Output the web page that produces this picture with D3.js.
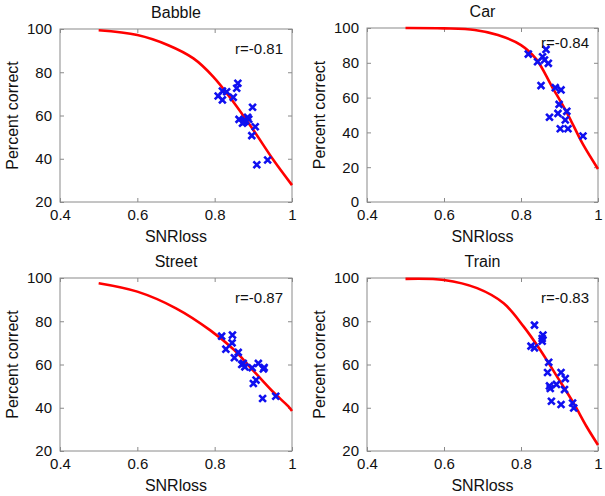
<!DOCTYPE html>
<html>
<head>
<meta charset="utf-8">
<script src="https://cdn.jsdelivr.net/npm/d3@7"></script>
<style>
  html, body { margin: 0; padding: 0; background: #fff; }
  svg { display: block; font-family: "Liberation Sans", Arial, Helvetica, sans-serif; }
</style>
</head>
<body>
<svg id="chart" width="605" height="496"></svg>
<script>
// ---- data ----
const titles = ["Babble", "Car", "Street", "Train"];
const rLabels = ["r=-0.81", "r=-0.84", "r=-0.87", "r=-0.83"];
const xTicks = [0.4, 0.6, 0.8, 1];
const yTicksA = [20, 40, 60, 80, 100];
const yTicksB = [0, 20, 40, 60, 80, 100];

const babbleX = [0.809,0.820,0.820,0.831,0.848,0.857,0.860,0.863,0.872,0.876,0.880,0.885,0.888,0.898,0.905,0.896,0.909,0.937];
const babbleY = [69.0,67.2,71.3,71.0,68.4,72.6,74.9,58.2,56.4,57.0,57.6,59.2,58.3,63.8,54.8,50.7,37.2,39.4];
const babbleFitX = [0.5,0.6,0.68,0.745,0.796,0.848,0.9,0.952,1.0];
const babbleFitY = [99.4,97.2,92.5,86.4,78,66.4,53.3,39.4,27.8];

const carX = [0.819,0.843,0.856,0.865,0.861,0.871,0.852,0.889,0.904,0.899,0.874,0.896,0.919,0.915,0.902,0.922,0.961];
const carY = [85,80.6,83.5,87.7,81.6,79.7,66.9,65.7,64.4,56.1,48.7,50.9,52.1,47.1,42.1,42.1,37.9];
const carFitX = [0.5,0.6,0.68,0.74,0.8,0.84,0.88,0.92,0.96,1.0];
const carFitY = [100,99.8,98.9,96,90.2,82,66.5,51,33.5,19];

const streetX = [0.818,0.846,0.845,0.829,0.861,0.851,0.874,0.878,0.897,0.913,0.926,0.928,0.907,0.900,0.924,0.958,0.870];
const streetY = [73.1,73.6,70.0,67.1,65.6,63.1,60.5,58.9,58.5,60.5,57.9,58.6,52.8,51.2,44.3,45.3,60.0];
const streetFitX = [0.5,0.6,0.7,0.788,0.85,0.891,0.95,0.99,1.0];
const streetFitY = [97.6,93.7,86,75.9,66.8,58.9,47.5,40.7,38.5];

const trainX = [0.835,0.857,0.855,0.855,0.826,0.835,0.872,0.869,0.904,0.915,0.874,0.876,0.892,0.913,0.879,0.904,0.934,0.937];
const trainY = [78.2,73.6,72.0,70.8,68.5,67.7,61.0,56.3,56.3,53.5,50.1,48.9,50.8,48.4,43.0,41.5,42.2,39.9];
const trainFitX = [0.5,0.6,0.686,0.755,0.807,0.85,0.894,0.937,0.971,1.0];
const trainFitY = [99.6,99.1,95.3,88.3,77.5,66.7,54.3,42,31.1,22.8];

// ---- layout ----
const panels = [
  { px: babbleX, py: babbleY, fx: babbleFitX, fy: babbleFitY, yDom: [20,100], yt: yTicksA, box: [60, 292, 29, 202] },
  { px: carX, py: carY, fx: carFitX, fy: carFitY, yDom: [0,100], yt: yTicksB, box: [367, 598, 28, 202] },
  { px: streetX, py: streetY, fx: streetFitX, fy: streetFitY, yDom: [20,100], yt: yTicksA, box: [60, 292, 278, 451] },
  { px: trainX, py: trainY, fx: trainFitX, fy: trainFitY, yDom: [20,100], yt: yTicksA, box: [367, 598, 278, 451] }
];

const svg = d3.select("#chart");
const axisColor = "#8a8a8a";
const tickLen = 4;
const FONT = '"Liberation Sans", Arial, Helvetica, sans-serif';

panels.forEach((p, i) => {
  const [x0, x1, y0, y1] = p.box;
  const x = d3.scaleLinear().domain([0.4, 1]).range([x0, x1]);
  const y = d3.scaleLinear().domain(p.yDom).range([y1, y0]);
  const g = svg.append("g");

  // box
  g.append("rect").attr("x", x0).attr("y", y0).attr("width", x1 - x0).attr("height", y1 - y0)
    .attr("fill", "none").attr("stroke", axisColor).attr("stroke-width", 1);

  // axes (inward ticks)
  const bottom = g.append("g").attr("transform", `translate(0,${y1})`)
    .call(d3.axisBottom(x).tickValues(xTicks).tickSize(-tickLen).tickPadding(7).tickFormat(d => String(d)));
  const top = g.append("g").attr("transform", `translate(0,${y0})`)
    .call(d3.axisTop(x).tickValues(xTicks).tickSize(-tickLen).tickFormat(""));
  const left = g.append("g").attr("transform", `translate(${x0},0)`)
    .call(d3.axisLeft(y).tickValues(p.yt).tickSize(-tickLen).tickPadding(8).tickFormat(d => String(d)));
  const right = g.append("g").attr("transform", `translate(${x1},0)`)
    .call(d3.axisRight(y).tickValues(p.yt).tickSize(-tickLen).tickFormat(""));
  [bottom, top, left, right].forEach(a => {
    a.attr("font-family", FONT);
    a.select(".domain").remove();
    a.selectAll(".tick line").attr("stroke", axisColor);
    a.selectAll("text").attr("fill", "#111").style("font-size", "15px").style("font-weight", "normal");
  });

  // fit line
  const fit = p.fx.map((v, k) => [v, p.fy[k]]);
  g.append("path").datum(fit)
    .attr("fill", "none").attr("stroke", "#ff0000").attr("stroke-width", 2.6)
    .attr("d", d3.line().x(d => x(d[0])).y(d => y(d[1])).curve(d3.curveCatmullRom.alpha(0.5)));

  // points (x markers)
  const s = 3.4;
  const pts = p.px.map((v, k) => [v, p.py[k]]);
  g.selectAll(".pt").data(pts).enter().append("path")
    .attr("d", d => {
      const cx = x(d[0]), cy = y(d[1]);
      return `M${cx-s},${cy-s}L${cx+s},${cy+s}M${cx-s},${cy+s}L${cx+s},${cy-s}`;
    })
    .attr("stroke", "#1010f0").attr("stroke-width", 2.6).attr("fill", "none");

  // title
  g.append("text").attr("x", (x0 + x1) / 2).attr("y", y0 - 11)
    .attr("text-anchor", "middle").style("font-size", "16px").style("font-weight", "normal")
    .attr("fill", "#111").text(titles[i]);

  // r label
  g.append("text").attr("x", x1 - 9).attr("y", y0 + (i === 1 ? 20 : 25))
    .attr("text-anchor", "end").style("font-size", "15px").attr("fill", "#111").text(rLabels[i]);

  // axis labels
  g.append("text").attr("x", (x0 + x1) / 2).attr("y", y1 + 40)
    .attr("text-anchor", "middle").style("font-size", "16px").attr("fill", "#111").text("SNRloss");
  g.append("text")
    .attr("transform", `translate(${x0 - 42},${(y0 + y1) / 2}) rotate(-90)`)
    .attr("text-anchor", "middle").style("font-size", "16px").attr("fill", "#111").text("Percent correct");
});
</script>
</body>
</html>
